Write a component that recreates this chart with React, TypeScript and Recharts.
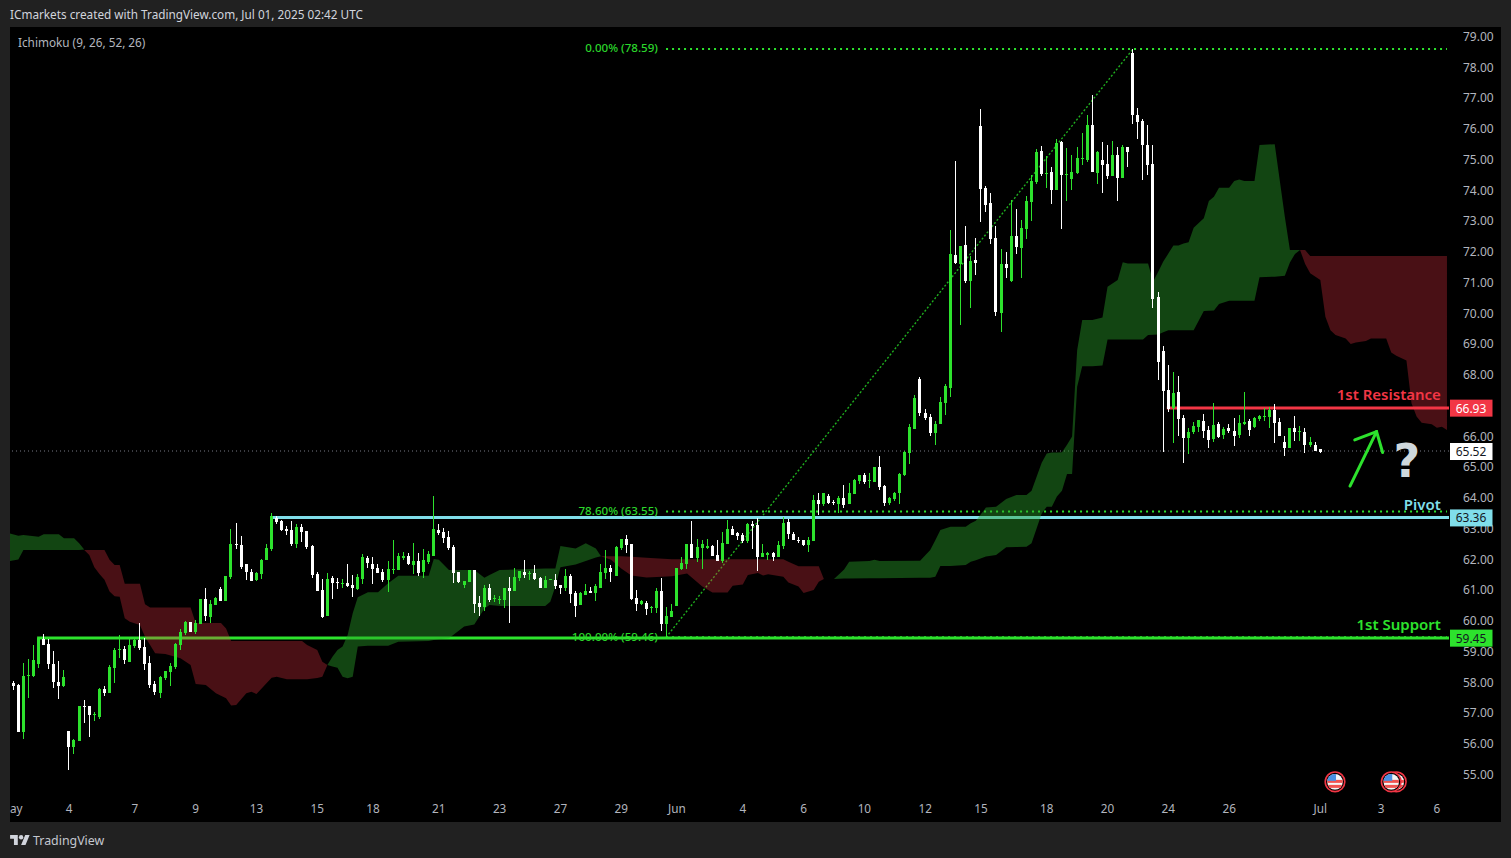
import React from "react";
import { ComposedChart, XAxis, YAxis, Bar, Area, ReferenceLine, ReferenceDot } from "recharts";

const opens = [57.99,57.91,56.39,58.21,58.20,58.59,59.41,59.24,58.59,58.01,57.88,56.41,55.89,56.09,57.23,57.23,56.93,56.87,57.78,57.65,58.46,59.05,59.08,58.66,59.18,59.37,59.15,58.63,57.94,57.65,58.14,58.33,58.50,59.21,59.60,59.96,59.63,59.89,60.71,60.12,60.51,61.03,60.64,61.42,62.50,62.46,61.85,61.59,61.33,61.52,61.98,62.33,63.33,63.24,62.98,62.95,62.50,63.05,62.92,62.43,61.52,61.00,60.15,61.39,61.26,61.20,61.23,61.16,61.03,61.36,62.04,61.85,61.71,61.59,61.33,61.67,61.65,62.04,62.10,61.81,61.94,61.59,61.91,62.10,62.95,62.89,62.72,62.40,61.59,61.16,61.26,61.65,60.58,60.45,61.07,60.71,60.67,60.67,61.07,60.97,61.39,61.59,61.52,61.55,61.39,61.07,61.34,61.33,61.16,61.07,61.46,60.90,60.51,60.84,60.97,60.90,61.07,61.55,61.71,61.46,62.36,62.66,62.50,60.74,60.54,60.58,60.41,60.41,60.97,59.89,60.12,60.48,61.68,61.85,62.50,62.04,62.37,62.37,62.43,62.14,61.94,62.50,62.98,62.85,62.79,62.59,63.15,63.11,62.07,62.14,62.20,62.07,62.43,63.21,62.82,62.63,62.63,62.46,62.59,63.93,63.80,64.06,63.86,63.80,63.99,63.80,64.12,64.55,64.74,64.55,64.51,65.00,64.38,63.83,63.96,64.15,64.74,65.46,66.24,67.86,66.76,66.63,66.11,66.40,67.08,67.57,71.89,71.60,72.22,71.05,71.73,76.09,74.07,73.59,72.45,70.01,71.60,71.05,72.51,72.12,72.74,73.62,74.27,75.28,74.53,74.59,74.01,75.57,74.50,74.37,74.56,75.02,74.98,76.12,74.56,74.98,74.85,74.46,75.15,74.40,75.41,78.46,76.45,76.25,75.47,74.85,70.53,68.77,67.50,66.92,67.44,66.59,65.94,66.14,66.30,66.50,66.20,65.91,66.40,66.04,66.27,66.17,66.04,66.40,66.50,66.30,66.56,66.63,66.63,66.85,66.46,65.81,65.62,66.27,66.14,66.14,65.72,65.72,65.59];
const highs = [58.04,57.94,58.63,58.76,59.21,59.46,59.57,59.41,59.01,58.69,58.40,56.41,56.15,57.24,57.42,57.23,57.03,57.81,57.88,58.56,59.11,59.54,59.18,59.41,59.44,59.93,59.44,58.85,58.04,58.20,58.36,58.63,59.28,59.73,59.99,59.96,60.02,60.71,61.07,60.67,60.77,61.10,61.46,62.98,63.18,62.76,61.85,61.68,61.59,62.01,62.50,63.50,63.41,63.28,63.08,63.24,63.15,63.15,62.92,62.46,61.59,61.36,61.55,61.46,61.39,61.36,61.85,61.49,61.52,62.17,62.10,62.07,61.85,61.68,61.94,62.63,62.20,62.24,62.20,62.53,62.20,62.33,62.27,64.06,63.15,63.02,62.92,62.46,61.59,61.29,61.65,61.65,60.80,61.16,61.20,60.84,60.80,61.07,61.42,61.71,61.62,61.98,61.62,61.81,61.42,61.46,61.36,61.52,61.16,61.68,61.52,60.97,60.93,61.20,61.10,61.20,61.85,62.30,61.81,62.43,62.66,62.79,62.50,61.00,60.67,60.64,60.48,61.07,61.39,60.45,60.54,61.71,62.07,62.50,63.24,62.66,62.63,62.66,62.46,62.63,62.89,63.28,63.08,62.89,62.85,63.18,63.24,63.34,62.50,62.24,62.24,62.59,63.37,63.31,62.89,62.72,62.63,62.72,64.09,64.15,64.15,64.12,63.93,64.06,64.41,64.48,64.61,64.74,64.81,64.81,65.00,65.36,64.41,64.03,64.19,64.81,65.52,66.40,67.34,67.93,66.89,66.72,66.50,67.28,67.70,72.71,74.95,72.19,72.84,71.86,72.45,76.64,74.14,73.91,72.84,72.09,71.99,73.68,73.39,73.03,73.81,74.50,75.34,75.44,75.11,74.76,75.67,75.60,75.37,75.15,75.41,75.86,76.45,77.10,75.28,75.57,75.47,75.60,75.41,75.47,75.41,78.59,76.67,76.32,76.12,75.47,70.69,68.93,68.32,68.09,67.96,66.69,66.27,66.46,66.53,66.72,66.33,67.08,66.46,66.30,66.40,66.59,66.69,67.44,66.56,66.63,66.69,66.92,66.95,67.05,66.59,66.01,66.27,66.66,66.33,66.27,65.97,65.81,65.59];
const lows = [57.76,56.39,56.15,57.49,58.17,58.46,59.21,58.43,57.81,57.46,57.85,55.15,55.67,56.09,56.68,56.22,56.74,56.80,57.55,57.65,57.98,58.79,58.59,58.66,59.11,59.05,58.40,57.81,57.58,57.49,58.07,57.88,58.43,59.05,59.54,59.63,59.57,59.89,59.99,59.93,60.51,60.64,60.64,61.36,62.33,61.68,61.33,61.29,61.29,61.36,61.98,62.27,63.15,62.92,62.79,62.43,62.36,62.56,62.33,61.39,60.97,60.09,60.15,60.71,61.03,61.07,61.10,60.77,61.00,61.20,61.71,61.20,61.55,61.26,60.93,61.52,61.65,61.98,61.81,61.52,61.46,61.39,61.85,62.10,62.79,62.53,62.30,61.23,61.23,61.07,61.26,60.25,60.15,60.32,60.61,60.61,60.54,60.41,59.93,60.97,61.29,61.39,61.33,61.33,61.07,61.07,61.33,61.03,60.87,60.97,60.58,60.12,60.51,60.84,60.90,60.64,61.07,61.36,61.26,61.46,62.30,62.20,60.67,60.32,60.51,60.19,60.25,60.25,59.67,59.46,60.12,60.48,61.65,61.68,62.04,61.91,61.68,62.33,62.11,61.94,61.88,62.50,62.79,62.63,62.53,62.53,62.33,61.62,62.07,61.98,61.94,62.07,62.33,62.66,62.63,62.53,62.43,62.24,62.59,63.44,63.73,63.80,63.76,63.50,63.67,63.80,64.12,64.45,64.45,64.32,64.51,64.25,63.73,63.76,63.90,63.80,64.71,65.10,66.24,66.66,66.53,66.01,65.72,66.40,66.69,67.28,71.60,69.62,70.98,70.17,71.24,72.97,73.29,72.25,69.91,69.39,71.15,71.02,71.93,71.15,72.41,73.00,74.20,74.46,74.07,73.55,74.01,72.74,73.65,74.01,74.53,74.82,74.92,74.59,74.20,73.91,74.37,74.46,73.65,74.40,74.76,76.15,75.67,74.33,74.50,70.17,67.83,65.49,66.79,65.78,66.01,65.13,65.42,66.07,66.14,65.94,65.62,65.81,65.94,65.91,66.11,65.68,65.94,66.37,66.01,66.27,66.50,66.50,66.27,65.78,66.01,65.36,65.62,65.85,65.85,65.46,65.65,65.52,65.46];
const closes = [57.89,56.39,58.20,58.24,58.72,59.43,59.21,58.59,58.01,57.88,58.17,55.89,56.12,57.23,57.20,56.93,56.97,57.78,57.65,58.50,59.05,59.08,58.72,59.21,59.37,59.11,58.59,57.91,57.68,58.17,58.36,58.53,59.24,59.63,59.96,59.63,59.93,60.71,60.15,60.54,60.74,60.64,61.46,62.50,62.46,61.76,61.59,61.29,61.55,61.98,62.36,63.41,63.21,62.95,62.92,62.50,63.05,62.89,62.40,61.49,60.97,60.12,61.36,61.23,61.23,61.23,61.13,61.07,61.42,62.07,61.88,61.68,61.55,61.33,61.68,61.69,62.10,62.10,61.85,61.94,61.55,61.98,62.17,62.98,62.85,62.69,62.36,61.55,61.26,61.29,61.65,60.54,60.45,61.07,60.67,60.74,60.71,61.07,60.97,61.42,61.62,61.49,61.55,61.36,61.07,61.33,61.36,61.13,61.07,61.46,60.87,60.48,60.90,60.97,60.90,61.13,61.59,61.71,61.59,62.40,62.66,62.46,60.71,60.54,60.64,60.38,60.45,60.97,59.89,60.15,60.32,61.71,61.88,62.50,62.04,62.40,62.50,62.43,62.11,61.94,62.53,62.98,62.79,62.76,62.59,63.15,63.08,62.07,62.20,62.20,62.07,62.46,63.18,62.82,62.63,62.59,62.46,62.63,63.93,63.80,64.15,63.83,63.83,63.99,63.76,64.15,64.58,64.74,64.51,64.58,65.00,64.35,63.83,63.99,64.15,64.77,65.49,66.30,67.24,66.76,66.59,66.11,66.40,67.11,67.64,71.93,71.63,72.19,71.05,71.70,71.63,74.04,73.52,72.41,70.04,71.60,71.47,72.51,72.15,72.77,73.65,74.30,75.24,74.53,74.56,74.01,75.54,74.50,74.53,74.59,75.05,75.05,76.12,74.59,75.24,74.82,74.46,75.15,74.40,75.41,75.24,76.45,76.22,75.47,74.82,70.46,68.42,67.47,66.89,67.41,66.56,65.94,66.14,66.33,66.53,66.17,65.88,66.36,65.97,66.24,66.17,66.01,66.43,66.46,66.20,66.59,66.66,66.66,66.85,66.43,66.01,65.62,66.27,66.14,66.17,65.72,65.81,65.52,65.49];

const green1Idx = [-0.65,1,2,5,6,9,10,12,13,14];
const green1Top = [62.84,62.76,62.79,62.73,62.81,62.81,62.68,62.68,62.52,62.32];
const green1Bot = [61.94,61.99,62.30,62.30,62.30,62.30,62.30,62.30,62.30,62.32];
const red1Idx = [14,15,16,17,18,19,20,21,22,23,25,26,27,28,30,33,35,36,38,40,41,42,43,44,46,47,48,51,52,54,57,58,60,61,62];
const red1Top = [62.30,62.30,62.30,62.30,62.30,61.98,61.81,61.81,61.20,61.20,61.20,60.54,60.43,60.43,60.43,60.43,60.43,59.93,59.93,59.93,59.93,59.75,59.34,59.34,59.34,59.34,59.34,59.34,59.34,59.34,59.34,59.21,59.05,58.67,58.56];
const red1Bot = [62.30,62.14,61.74,61.52,61.33,60.95,60.80,60.78,60.08,59.97,59.86,59.48,59.21,58.94,58.92,58.78,58.56,57.94,57.91,57.64,57.56,57.48,57.24,57.26,57.64,57.69,57.62,58.15,58.18,58.10,58.10,58.10,58.14,58.18,58.56];
const green2Idx = [62,63,64,65,66,67,68,70,72,74,76,82,83,84,86,89,91,93,94,96,105,106,107,108,111,113,115,116];
const green2Top = [58.56,58.83,59.05,59.16,59.54,60.24,60.76,60.93,60.93,61.22,61.46,61.46,62.01,61.98,61.65,61.65,61.65,61.40,61.49,61.65,61.70,61.70,61.70,62.43,62.35,62.52,62.35,62.10];
const green2Bot = [58.56,58.51,58.47,58.18,58.13,58.18,59.16,59.19,59.19,59.19,59.32,59.34,59.37,59.40,59.43,59.81,59.88,60.40,60.51,60.48,60.48,60.62,61.11,61.74,61.83,61.94,62.06,62.10];
const red2Idx = [116,118,120,122,125,130,133,136,138,141,142,144,145,147,148,149,152,153,155,156,158,159,160];
const red2Top = [62.10,62.10,62.10,62.08,62.05,62.00,62.00,62.00,62.00,62.00,62.00,62.00,62.00,62.00,62.00,62.00,62.00,61.92,61.77,61.77,61.77,61.77,61.36];
const red2Bot = [62.10,61.98,61.70,61.47,61.41,61.45,61.54,61.11,60.92,60.92,61.14,61.18,61.49,61.55,61.47,61.51,61.43,61.24,61.11,60.90,61.00,61.27,61.36];
const green3Idx = [162,164,165,169,170,171,179,181,182,183,185,188,189,190,192,194,196,198,200,201,203,204,205,206,207,208,209,210,211,213,215,216,218,219,220,223,224,225,226,227,228,229,230,231,232,233,235,236,237,238,240,241,242,243,245,246,249,251,252,253,254];
const green3Top = [61.36,61.67,61.92,61.94,61.98,61.94,61.95,62.30,62.62,62.95,63.06,63.06,63.17,63.25,63.68,63.71,63.96,64.09,64.09,64.23,65.14,65.44,65.47,65.47,65.48,65.72,65.99,68.80,69.78,69.78,69.86,70.86,71.08,71.66,71.62,71.62,71.62,71.03,71.35,71.68,71.94,72.20,72.20,72.27,72.31,72.78,73.09,73.65,73.79,74.08,74.08,74.30,74.35,74.30,74.30,75.47,75.50,73.13,72.06,72.06,72.06];
const green3Bot = [61.36,61.37,61.37,61.38,61.38,61.38,61.40,61.40,61.43,61.78,61.78,61.81,61.92,61.97,62.09,62.14,62.39,62.40,62.41,62.52,63.49,63.71,63.71,64.04,64.23,64.77,64.77,67.61,68.28,68.28,68.30,69.15,69.15,69.15,69.15,69.15,69.29,69.30,69.31,69.38,69.45,69.45,69.45,69.45,69.45,69.45,70.07,70.08,70.09,70.30,70.41,70.41,70.41,70.41,70.41,71.17,71.19,71.22,71.65,71.93,72.06];
const red3Idx = [254,255,256,258,259,260,261,263,264,265,267,268,271,272,273,275,276,277,278,280,281,282,283];
const red3Top = [72.06,72.06,71.86,71.86,71.86,71.86,71.86,71.86,71.86,71.86,71.86,71.86,71.86,71.86,71.86,71.86,71.86,71.86,71.86,71.86,71.86,71.86,71.86];
const red3Bot = [72.06,71.60,71.30,71.08,69.89,69.45,69.29,69.18,69.00,69.05,69.10,69.18,69.18,68.72,68.62,68.46,67.07,66.64,66.44,66.39,66.28,66.31,66.20];

const yTicks = [55,56,57,58,59,60,61,62,63,64,65,66,68,69,70,71,72,73,74,75,76,77,78,79];
const xTickIdx = [0.6,11,24,36,48,60,71,84,96,108,120,131,144,156,168,180,191,204,216,228,240,258,270,281];
const xTickLabels = ["ay","4","7","9","13","15","18","21","23","27","29","Jun","4","6","10","12","15","18","20","24","26","Jul","3","6"];

const GREEN = "#2de22d";
const RED = "#f23645";
const CYAN = "#80deea";
const TEXT = "#b2b5be";
const FONT = "'Noto Sans', sans-serif";
const X_DOMAIN: [number, number] = [-0.65, 283.4];
const Y_DOMAIN: [number, number] = [54.333, 79.309];

const clouds = [
  { key: "g1", idx: green1Idx, top: green1Top, bot: green1Bot, fill: "#2aa02a", op: 0.43 },
  { key: "r1", idx: red1Idx, top: red1Top, bot: red1Bot, fill: RED, op: 0.3 },
  { key: "g2", idx: green2Idx, top: green2Top, bot: green2Bot, fill: "#2aa02a", op: 0.43 },
  { key: "r2", idx: red2Idx, top: red2Top, bot: red2Bot, fill: RED, op: 0.3 },
  { key: "g3", idx: green3Idx, top: green3Top, bot: green3Bot, fill: "#2aa02a", op: 0.43 },
  { key: "r3", idx: red3Idx, top: red3Top, bot: red3Bot, fill: RED, op: 0.3 },
];

const rowIndices: number[] = [-0.65];
for (let i = 0; i <= 283; i++) rowIndices.push(i);

const rows = rowIndices.map((i) => {
  const hasBar = Number.isInteger(i) && i >= 0 && i < opens.length;
  const row: any = {
    i,
    o: hasBar ? opens[i] : null,
    h: hasBar ? highs[i] : null,
    l: hasBar ? lows[i] : null,
    c: hasBar ? closes[i] : null,
  };
  clouds.forEach((cl) => {
    const k = cl.idx.indexOf(i);
    row[cl.key] = k >= 0 ? [cl.bot[k], cl.top[k]] : [null, null];
  });
  return row;
});

function Candle(props: any) {
  const { x, y, width, height, payload } = props;
  if (payload == null || payload.o == null || !(height >= 0)) return null;
  const up = payload.c >= payload.o;
  const color = up ? GREEN : "#ffffff";
  const perUnit = height / (payload.h - payload.l);
  const bodyTop = y + (payload.h - Math.max(payload.o, payload.c)) * perUnit;
  const bodyH = Math.max(1, Math.abs(payload.o - payload.c) * perUnit);
  const cx = Math.floor(x + width / 2);
  return (
    <g shapeRendering="crispEdges">
      <rect x={cx} y={y} width={1} height={height} fill={color} />
      <rect x={cx - 1} y={bodyTop} width={3} height={bodyH} fill={color} />
    </g>
  );
}

const Tag = (bg: string, fg: string, text: string) => (p: any) => (
  <g>
    <rect x={p.cx + 1} y={p.cy - 8} width={42.5} height={17} fill={bg} />
    <text x={p.cx + 22} y={p.cy + 5} textAnchor="middle" fontSize={12} fontFamily={FONT} fill={fg}>{text}</text>
  </g>
);

const Note = (text: string, color: string, size: number, weight: number | string, anchor: string, family = FONT) => (p: any) => (
  <text x={p.cx} y={p.cy} textAnchor={anchor as any} dominantBaseline="central" fontSize={size} fontWeight={weight} fontFamily={family} fill={color}>{text}</text>
);

const Flag = (id: string) => (p: any) => (
  <g>
    <circle cx={p.cx} cy={p.cy} r={9.8} fill="#000" stroke={RED} strokeWidth={1.6} />
    <clipPath id={id}><circle cx={p.cx} cy={p.cy} r={7.8} /></clipPath>
    <g clipPath={`url(#${id})`}>
      <rect x={p.cx - 8} y={p.cy - 8} width={16} height={16} fill="#f5f5f5" />
      <rect x={p.cx - 8} y={p.cy - 2} width={16} height={3} fill="#ef5350" />
      <rect x={p.cx - 8} y={p.cy + 3} width={16} height={3} fill="#ef5350" />
      <rect x={p.cx - 8} y={p.cy - 8} width={9} height={7} fill="#4a90e2" />
    </g>
  </g>
);

const dotLine = { stroke: GREEN, strokeWidth: 2, strokeDasharray: "2 4" };
const layer: React.CSSProperties = { position: "absolute", left: 0, top: 0 };

export default function App() {
  return (
    <div style={{ position: "absolute", left: 0, top: 0, width: 1511, height: 858, background: "#212121", overflow: "hidden" }}>
      <div style={{ position: "absolute", left: 10, top: 4.5, fontFamily: FONT, fontSize: 11.75, lineHeight: "18px", color: "#d1d4dc", whiteSpace: "nowrap" }}>
        ICmarkets created with TradingView.com, Jul 01, 2025 02:42 UTC
      </div>
      <div style={{ position: "absolute", left: 10, top: 27, width: 1491, height: 795, background: "#000" }} />
      <div style={layer}>
        <ComposedChart width={1511} height={858} data={rows} margin={{ top: 27, right: 11, bottom: 36, left: 10 }}>
          <XAxis
            dataKey="i"
            type="number"
            domain={X_DOMAIN}
            allowDataOverflow
            ticks={xTickIdx}
            interval={0}
            tickFormatter={(v: number) => xTickLabels[xTickIdx.indexOf(v)]}
            tick={{ fill: TEXT, fontSize: 11.75, fontFamily: FONT }}
            tickLine={false}
            axisLine={false}
            height={27}
            tickMargin={4}
          />
          <YAxis
            type="number"
            orientation="right"
            domain={Y_DOMAIN}
            allowDataOverflow
            ticks={yTicks}
            interval={0}
            tickFormatter={(v: number) => v.toFixed(2)}
            tick={{ fill: TEXT, fontSize: 12, fontFamily: FONT }}
            tickLine={false}
            axisLine={false}
            width={51}
            tickMargin={8}
          />
          <ReferenceLine y={65.52} stroke="#787b86" strokeWidth={1} strokeDasharray="1 3" />
          <ReferenceLine segment={[{ x: 128.85, y: 78.59 }, { x: 283, y: 78.59 }]} {...dotLine} />
          <ReferenceLine segment={[{ x: 128.85, y: 63.55 }, { x: 283, y: 63.55 }]} {...dotLine} />
          <ReferenceLine segment={[{ x: 128.85, y: 59.46 }, { x: 283, y: 59.46 }]} {...dotLine} />
          <ReferenceLine segment={[{ x: 128.85, y: 59.46 }, { x: 221, y: 78.59 }]} stroke="#1fae1f" strokeWidth={1.4} strokeDasharray="2 2" />
          <ReferenceLine segment={[{ x: 51, y: 63.36 }, { x: 283.4, y: 63.36 }]} stroke={CYAN} strokeWidth={3} />
          <ReferenceLine segment={[{ x: 4.7, y: 59.44 }, { x: 283.4, y: 59.44 }]} stroke={GREEN} strokeWidth={3} />
          <ReferenceLine segment={[{ x: 227.7, y: 66.92 }, { x: 283.4, y: 66.92 }]} stroke={RED} strokeWidth={3} />
        </ComposedChart>
      </div>
      <div style={layer}>
        <ComposedChart width={1511} height={858} data={rows} margin={{ top: 27, right: 62, bottom: 63, left: 10 }}>
          <XAxis dataKey="i" type="number" domain={X_DOMAIN} allowDataOverflow hide />
          <YAxis type="number" domain={Y_DOMAIN} allowDataOverflow hide />

          {clouds.map((cl) => (
            <Area
              key={cl.key}
              dataKey={cl.key}
              type="linear"
              connectNulls
              stroke="none"
              fill={cl.fill}
              fillOpacity={cl.op}
              dot={false}
              activeDot={false}
              isAnimationActive={false}
              legendType="none"
            />
          ))}

          <Bar
            dataKey={(r: any) => (r.h == null ? null : [r.l, r.h])}
            barSize={3}
            shape={Candle}
            isAnimationActive={false}
          />

          <ReferenceLine segment={[{ x: 263.86, y: 64.38 }, { x: 269.1, y: 66.15 }]} stroke={GREEN} strokeWidth={3} strokeLinecap="round" />
          <ReferenceLine segment={[{ x: 264.8, y: 65.88 }, { x: 269.1, y: 66.15 }]} stroke={GREEN} strokeWidth={3} strokeLinecap="round" />
          <ReferenceLine segment={[{ x: 270.3, y: 65.47 }, { x: 269.1, y: 66.15 }]} stroke={GREEN} strokeWidth={3} strokeLinecap="round" />

          <ReferenceDot x={127.26} y={78.63} ifOverflow="visible" shape={Note("0.00% (78.59)", "#2bd62b", 11.6, 500, "end")} />
          <ReferenceDot x={127.26} y={63.59} ifOverflow="visible" shape={Note("78.60% (63.55)", "#2bd62b", 11.6, 500, "end")} />
          <ReferenceDot x={127.26} y={59.5} ifOverflow="visible" shape={Note("100.00% (59.46)", "#2bd62b", 11.6, 500, "end")} />
          <ReferenceDot x={281.8} y={67.37} ifOverflow="visible" shape={Note("1st Resistance", RED, 15, 600, "end")} />
          <ReferenceDot x={281.8} y={63.81} ifOverflow="visible" shape={Note("Pivot", CYAN, 15, 600, "end")} />
          <ReferenceDot x={281.8} y={59.88} ifOverflow="visible" shape={Note("1st Support", GREEN, 15, 600, "end")} />
          <ReferenceDot x={275.1} y={65.2} ifOverflow="visible" shape={Note("?", "#cfd8dc", 46, 700, "middle", "'DejaVu Sans', sans-serif")} />

          <ReferenceDot x={260.9} y={54.76} ifOverflow="visible" shape={Flag("flagA")} />
          <ReferenceDot x={273} y={54.76} ifOverflow="visible" shape={Flag("flagB")} />
          <ReferenceDot x={272} y={54.76} ifOverflow="visible" shape={Flag("flagC")} />

          <ReferenceDot x={283.4} y={66.93} ifOverflow="visible" shape={Tag(RED, "#ffffff", "66.93")} />
          <ReferenceDot x={283.4} y={65.52} ifOverflow="visible" shape={Tag("#ffffff", "#131722", "65.52")} />
          <ReferenceDot x={283.4} y={63.36} ifOverflow="visible" shape={Tag(CYAN, "#131722", "63.36")} />
          <ReferenceDot x={283.4} y={59.45} ifOverflow="visible" shape={Tag(GREEN, "#131722", "59.45")} />
        </ComposedChart>
      </div>
      <div style={{ position: "absolute", left: 18, top: 32.5, fontFamily: FONT, fontSize: 11.75, lineHeight: "18px", color: TEXT, whiteSpace: "nowrap" }}>
        Ichimoku (9, 26, 52, 26)
      </div>
      <svg style={{ position: "absolute", left: 10, top: 835 }} width={20} height={11} viewBox="0 0 36 20">
        <path d="M14 18H7V7H0V0h14v18zM28 18h-8l7.5-18h8L28 18z" fill="#d1d4dc" />
        <circle cx="20" cy="4" r="4" fill="#d1d4dc" />
      </svg>
      <div style={{ position: "absolute", left: 33, top: 831.5, fontFamily: FONT, fontSize: 12.4, lineHeight: "18px", color: "#c4c7cf", whiteSpace: "nowrap" }}>
        TradingView
      </div>
    </div>
  );
}
